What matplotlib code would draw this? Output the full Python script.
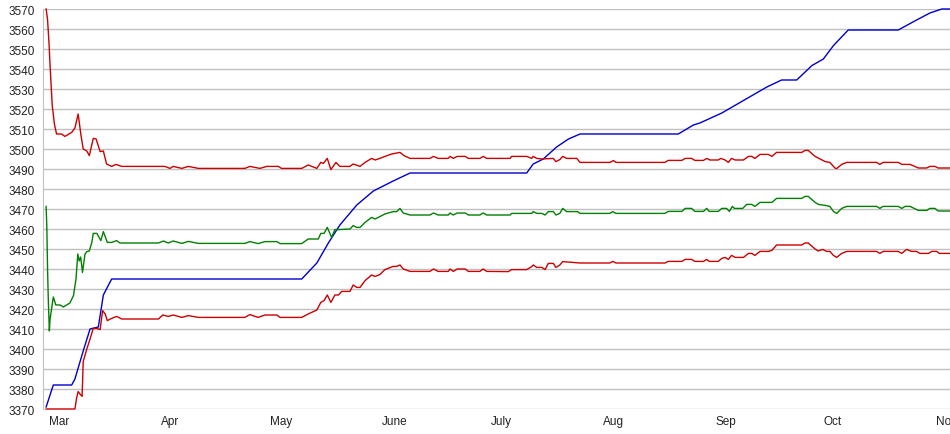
import matplotlib
matplotlib.use("Agg")
import matplotlib.pyplot as plt

# x = days after 1 March, y = value
month_days = [0, 31, 61, 92, 122, 153, 184, 214, 245]
month_names = ["Mar", "Apr", "May", "June", "July", "Aug", "Sep", "Oct", "Nov"]

blue_x = [-3.3, -1.3, 3.8, 4.7, 7.0, 8.9, 11.2, 12.6, 14.9, 67.7, 71.9, 75.1, 78.3, 83.0,
          87.6, 93.1, 97.8, 130.2, 132.0, 134.8, 138.5, 141.8, 145.0, 172.3, 176.5, 178.3,
          184.4, 196.9, 201.0, 205.2, 209.4, 212.6, 215.4, 219.5, 233.4, 238.5, 242.2,
          245.5, 247.8]
blue_y = [3371, 3382, 3382, 3385, 3399, 3410, 3411, 3427, 3435, 3435, 3443, 3453, 3462, 3472,
          3479, 3484, 3488, 3488, 3492.5, 3495, 3501, 3505, 3507.5, 3507.5, 3512, 3513,
          3518, 3531, 3534.5, 3534.5, 3541.7, 3545, 3551.7, 3559.5, 3559.5, 3564.5, 3568,
          3570, 3570]

upper_x = [-3.3, -2.9, -2.5, -2.2, -1.9, -1.6, -1.0, -0.4, 1.0, 1.9, 3.8, 4.7, 5.6, 6.4,
           7.0, 8.0, 8.7, 9.8, 10.6, 11.7, 12.6, 13.5, 14.9, 16.1, 17.7, 29.7, 31.1, 32.0,
           34.4, 36.2, 39.0, 51.9, 53.3, 56.1, 58.0, 61.2, 62.1, 67.7, 69.5, 71.9, 73.0,
           73.7, 74.8, 75.8, 77.2, 78.3, 81.1, 82.0, 83.9, 85.3, 87.1, 88.1, 89.4, 90.8,
           92.7, 95.0, 96.1, 97.8, 103.3, 104.3, 105.6, 108.4, 108.9, 109.8, 110.9, 113.1,
           114.0, 117.2, 118.1, 119.1, 125.6, 126.0, 130.2, 131.6, 132.0, 133.0, 134.4,
           137.6, 138.3, 139.4, 140.2, 141.3, 144.1, 145.0, 153.3, 154.3, 155.0, 168.6,
           169.5, 173.3, 174.2, 176.0, 176.9, 179.3, 180.2, 181.1, 183.4, 184.1, 185.3,
           186.2, 187.1, 188.1, 190.4, 191.8, 192.7, 193.6, 195.0, 197.3, 198.3, 199.6,
           206.6, 207.5, 208.4, 210.3, 213.1, 214.4, 215.8, 216.3, 217.7, 219.1, 227.4,
           228.3, 229.2, 233.4, 234.4, 236.7, 239.0, 241.3, 242.2, 243.6, 244.5, 247.8]
upper_y = [3570, 3564.7, 3553, 3541.7, 3531.7, 3521.7, 3512.5, 3507.5, 3507.5, 3506.3,
           3508.3, 3510.5, 3517.5, 3506.7, 3500, 3499, 3496.7, 3505.3, 3505, 3498.7, 3499,
           3492.5, 3491.3, 3492.3, 3491.3, 3491.3, 3490.3, 3491.3, 3490.3, 3491.3, 3490.3,
           3490.3, 3491.3, 3490.3, 3491.3, 3491.3, 3490.3, 3490.3, 3492, 3490.3, 3493.3,
           3492.8, 3495.3, 3489.7, 3493.3, 3491.3, 3491.3, 3492.5, 3491.3, 3493.3, 3495.3,
           3494.5, 3495.3, 3496.3, 3497.5, 3498.3, 3496.7, 3495.3, 3495.3, 3496.3, 3495.3,
           3495.3, 3496.3, 3495.3, 3496.3, 3496.3, 3495.3, 3495.3, 3496.3, 3495.3, 3495.3,
           3496.3, 3496.3, 3495.3, 3496.3, 3495.3, 3495, 3495.3, 3493.7, 3494.7, 3496.3,
           3495.3, 3495.3, 3493.3, 3493.3, 3494.2, 3493.3, 3493.3, 3494.3, 3494.3, 3495.3,
           3495.3, 3494.3, 3494.3, 3495.3, 3494.5, 3494.5, 3495.3, 3494.5, 3493.3, 3495.3,
           3494.5, 3494.5, 3496.3, 3496.3, 3495.3, 3497.3, 3497.3, 3496.3, 3498.3, 3498.3,
           3499.3, 3499.3, 3496.3, 3493.7, 3493.3, 3490.5, 3490.2, 3492.3, 3493.3, 3493.3,
           3492.3, 3493.3, 3493.3, 3492.3, 3492.3, 3490.5, 3490.5, 3491.3, 3491.3, 3490.5,
           3490.5]

green_x = [-3.3, -3.1, -2.9, -2.7, -2.4, -2.2, -1.8, -1.3, -0.6, 0.6, 1.5, 3.3, 4.3, 5.0,
           5.5, 5.9, 6.3, 6.8, 7.5, 8.0, 8.7, 9.4, 9.8, 10.8, 11.9, 12.6, 13.7, 14.9, 16.3,
           17.2, 27.9, 29.3, 30.6, 32.0, 34.4, 36.2, 39.0, 51.9, 53.3, 55.6, 57.5, 60.8,
           61.7, 67.7, 69.5, 72.3, 73.0, 73.9, 74.8, 76.0, 76.9, 77.9, 81.1, 82.0, 83.0,
           83.9, 85.3, 87.1, 88.1, 90.8, 93.1, 94.1, 95.0, 95.9, 97.8, 103.3, 104.3, 105.6,
           108.4, 108.9, 109.8, 110.9, 113.1, 114.0, 117.2, 118.1, 119.1, 125.6, 126.0,
           131.6, 132.0, 133.0, 134.4, 135.3, 136.2, 137.6, 138.3, 139.4, 140.2, 141.3,
           144.3, 145.0, 153.3, 154.1, 155.0, 168.6, 169.5, 173.3, 174.2, 176.0, 176.9,
           179.3, 180.2, 180.9, 183.4, 184.4, 185.7, 186.5, 187.3, 187.9, 190.2, 191.3,
           192.7, 193.6, 195.0, 198.3, 199.6, 206.6, 207.5, 208.4, 210.3, 211.2, 213.1,
           214.4, 215.4, 216.3, 217.7, 219.1, 227.4, 228.3, 229.2, 233.4, 234.4, 235.3,
           236.7, 239.0, 241.3, 242.2, 243.6, 244.5, 247.8]
green_y = [3471.3, 3460.8, 3440, 3425, 3409, 3415, 3420, 3426, 3422, 3422, 3421, 3423,
           3426.7, 3435, 3447.5, 3444, 3446, 3438.3, 3447.5, 3448.7, 3449, 3453.3, 3457.8,
           3457.8, 3454.2, 3458.7, 3453.3, 3453.3, 3454.2, 3453, 3453, 3454, 3453, 3454,
           3452.8, 3453.8, 3452.8, 3452.8, 3453.7, 3452.7, 3453.7, 3453.7, 3452.7, 3452.7,
           3455, 3455, 3457.8, 3457.8, 3460.8, 3455.8, 3459.7, 3459.7, 3460, 3461.7, 3460.8,
           3460.8, 3463.3, 3465.8, 3465, 3467.5, 3468.7, 3468.7, 3470.3, 3468, 3467, 3467,
           3468, 3467, 3467, 3468, 3467, 3468, 3468, 3467, 3467, 3468, 3467, 3467, 3467.8,
           3467.8, 3468.7, 3467.8, 3467.8, 3467, 3468.7, 3468.7, 3467, 3467.8, 3470.3,
           3468.7, 3468.7, 3467.8, 3467.8, 3468.7, 3467.8, 3467.8, 3468.8, 3468.8, 3470.3,
           3470.3, 3468.8, 3468.8, 3470.3, 3468.8, 3468.8, 3470.3, 3470.3, 3468.8, 3471.3,
           3470.3, 3470.3, 3472.3, 3472.3, 3471.3, 3473.3, 3473.3, 3475.3, 3475.3, 3476.3,
           3476.3, 3473.3, 3472.3, 3471.8, 3471.3, 3468.8, 3467.8, 3470.3, 3471.3, 3471.3,
           3470.3, 3471.3, 3471.3, 3470.3, 3471.3, 3471.3, 3469.3, 3469.3, 3470.3, 3470.3,
           3469, 3469]

lower_x = [-3.3, 4.7, 5.2, 5.6, 6.1, 6.7, 7.0, 8.0, 8.9, 9.8, 10.8, 11.7, 12.4, 13.1,
           13.7, 14.9, 16.3, 17.7, 27.9, 29.1, 30.6, 32.0, 34.4, 36.2, 39.0, 51.9, 53.3,
           55.6, 57.5, 60.8, 61.7, 67.7, 69.5, 71.9, 73.0, 73.9, 74.8, 75.8, 76.9, 77.9,
           78.8, 81.1, 82.0, 83.0, 83.9, 85.3, 87.1, 88.1, 89.4, 90.8, 93.1, 94.1, 95.0,
           95.9, 97.8, 103.3, 104.3, 105.6, 108.4, 108.9, 109.8, 110.9, 113.1, 114.0, 117.2,
           118.1, 119.1, 125.1, 126.0, 130.2, 131.6, 132.0, 133.0, 134.4, 135.3, 136.2,
           137.6, 138.3, 139.4, 140.2, 145.0, 153.3, 154.1, 155.0, 168.6, 169.5, 173.3,
           174.2, 176.0, 176.9, 179.3, 180.2, 180.9, 183.4, 184.4, 185.3, 186.2, 187.1,
           188.1, 190.4, 191.8, 192.7, 193.6, 195.0, 197.3, 198.3, 199.6, 206.6, 207.5,
           208.4, 210.3, 211.2, 212.4, 213.5, 214.4, 215.4, 216.3, 217.7, 219.1, 227.4,
           228.3, 229.2, 233.4, 234.4, 235.7, 237.1, 238.5, 239.4, 241.8, 242.7, 244.1,
           244.8, 247.8]
lower_y = [3370, 3370, 3375.8, 3378.7, 3377.5, 3376.3, 3393.7, 3400, 3405, 3410.3, 3410.3,
           3409.7, 3419.2, 3417.5, 3414.2, 3415.3, 3416.3, 3415, 3415, 3417, 3416.3, 3417,
           3415.8, 3416.7, 3415.8, 3415.8, 3417.2, 3415.8, 3417, 3417, 3415.8, 3415.8,
           3417.5, 3419.5, 3423.3, 3424.2, 3427, 3423.3, 3427, 3427, 3428.8, 3428.8, 3432,
           3430.8, 3430.8, 3434.2, 3437, 3436.3, 3437.2, 3439.7, 3441.3, 3441.3, 3442, 3440,
           3438.8, 3438.8, 3440, 3438.8, 3438.8, 3440, 3438.8, 3440, 3440, 3438.8, 3438.8,
           3440, 3438.8, 3438.7, 3439.7, 3439.7, 3441.2, 3442, 3440.8, 3440.8, 3439.7,
           3442.8, 3442.8, 3440.8, 3442, 3443.7, 3443, 3443, 3443.8, 3443, 3443, 3443.8,
           3443.8, 3444.8, 3444.8, 3443.8, 3443.8, 3444.8, 3443.8, 3443.8, 3445.3, 3445.8,
           3444.8, 3446.8, 3445.8, 3445.8, 3447.8, 3447.8, 3446.8, 3448.8, 3448.8, 3449.3,
           3452, 3452, 3453, 3453, 3450, 3449, 3449.8, 3448.8, 3448.8, 3446.8, 3445.8,
           3447.8, 3448.8, 3448.8, 3447.8, 3448.8, 3448.8, 3447.8, 3449.8, 3448.8, 3448.8,
           3447.8, 3447.8, 3448.8, 3448.8, 3447.8, 3447.8]

plt.rcParams["font.family"] = ["Liberation Sans", "DejaVu Sans"]

fig = plt.figure(figsize=(9.5, 4.35), dpi=100)
ax = fig.add_axes([43 / 950, 25 / 435, 907 / 950, 400 / 435])

ax.plot(blue_x, blue_y, color="#0000cc", lw=1.0, clip_on=False, zorder=3)
ax.plot(upper_x, upper_y, color="#cc0000", lw=1.0, clip_on=False, zorder=3)
ax.plot(green_x, green_y, color="#008000", lw=1.0, clip_on=False, zorder=3)
ax.plot(lower_x, lower_y, color="#cc0000", lw=1.0, clip_on=False, zorder=3)

ax.set_xlim((43 - 58) / 3.6, (950 - 58) / 3.6)
ax.set_ylim(3370, 3570)
ax.set_yticks(range(3370, 3571, 10))

# month labels start (left aligned) at the first of each month
tick_pos = [(49 + 3.62 * m - 58) / 3.6 for m in month_days]
ax.set_xticks(tick_pos)
ax.set_xticklabels(month_names, ha="left")

ax.grid(axis="y", color="#c0c0c0", lw=1.0)
ax.set_axisbelow(True)
for s in ["top", "right", "bottom"]:
    ax.spines[s].set_visible(False)
ax.spines["left"].set_color("#c0c0c0")
ax.tick_params(axis="both", length=0, labelsize=8.5, colors="#222222")
ax.tick_params(axis="y", pad=6)
ax.tick_params(axis="x", pad=4)

fig.savefig("out.png", dpi=100)
